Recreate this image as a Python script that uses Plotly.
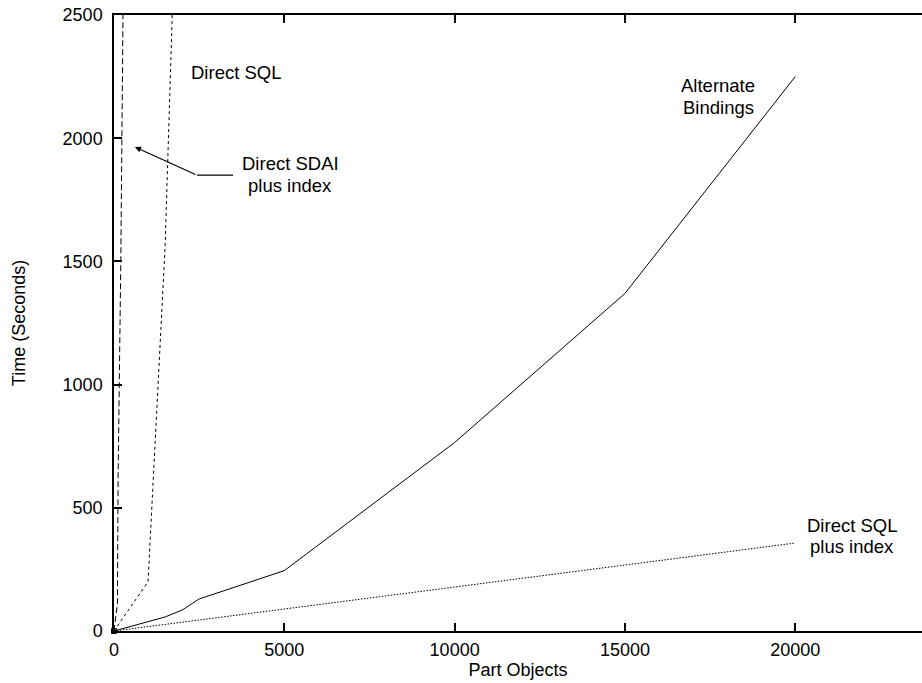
import plotly.graph_objects as go

# ---- data ----
alt_x = [0, 1500, 2000, 2500, 5000, 10000, 15000, 20000]
alt_y = [0, 57, 85, 130, 245, 765, 1370, 2250]

sqlidx_x = [0, 1500, 2000, 2500, 5000, 10000, 15000, 20000]
sqlidx_y = [0, 27, 36, 45, 89, 178, 268, 357]

sql_x = [0, 1000, 1500, 2000]
sql_y = [0, 200, 1560, 3800]

sdai_x = [0, 100, 120, 200, 270]
sdai_y = [0, 110, 620, 1500, 2600]

x_ticks = [0, 5000, 10000, 15000, 20000]
y_ticks = [0, 500, 1000, 1500, 2000, 2500]

FONT = "Liberation Sans, Arial, Helvetica, sans-serif"

fig = go.Figure()
fig.add_trace(go.Scatter(x=alt_x, y=alt_y, mode="lines",
                         line=dict(color="black", width=1), name="Alternate Bindings"))
fig.add_trace(go.Scatter(x=sqlidx_x, y=sqlidx_y, mode="lines",
                         line=dict(color="black", width=1, dash="1.5px,1.5px"),
                         name="Direct SQL plus index"))
fig.add_trace(go.Scatter(x=sql_x, y=sql_y, mode="lines",
                         line=dict(color="black", width=1, dash="3px,3px"), name="Direct SQL"))
fig.add_trace(go.Scatter(x=sdai_x, y=sdai_y, mode="lines",
                         line=dict(color="black", width=1, dash="6px,3px"),
                         name="Direct SDAI plus index"))
# small open square at the origin point of the SDAI series
fig.add_trace(go.Scatter(x=[sdai_x[0]], y=[sdai_y[0]], mode="markers",
                         marker=dict(symbol="square-open", size=5, color="black",
                                     line=dict(width=1, color="black")),
                         cliponaxis=False, showlegend=False, hoverinfo="skip"))

annots = [
    dict(x=3582, y=2268, text="Direct SQL"),
    dict(x=5167, y=1899, text="Direct SDAI"),
    dict(x=5167, y=1810, text="plus index"),
    dict(x=17734, y=2212, text="Alternate"),
    dict(x=17734, y=2126, text="Bindings"),
    dict(x=21668, y=430, text="Direct SQL"),
    dict(x=21668, y=341, text="plus index"),
]
for a in annots:
    fig.add_annotation(**a, xanchor="center", yanchor="middle", showarrow=False,
                       font=dict(family=FONT, size=18.5, color="black"))

# arrow for Direct SDAI plus index
fig.add_shape(type="line", x0=3494, y0=1850, x1=2437, y1=1850,
              line=dict(color="black", width=1.2))
fig.add_annotation(x=617, y=1964, ax=2437, ay=1850, xref="x", yref="y",
                   axref="x", ayref="y", text="", showarrow=True,
                   arrowhead=2, arrowsize=1, arrowwidth=1.2, arrowcolor="black")

fig.update_layout(
    width=922, height=683,
    margin=dict(l=114, r=0, t=15, b=52),
    paper_bgcolor="white", plot_bgcolor="white",
    showlegend=False,
    font=dict(family=FONT, size=18, color="black"),
)
fig.update_xaxes(
    range=[0, 23720], tickvals=x_ticks, ticktext=[str(v) for v in x_ticks],
    ticks="inside", ticklen=8, tickwidth=1.5, tickcolor="black",
    showline=True, linecolor="black", linewidth=1.5, mirror="ticks",
    showgrid=False, zeroline=False, ticklabelstandoff=2,
    title=dict(text="Part Objects", standoff=0, font=dict(size=18)),
    automargin=False,
)
fig.update_yaxes(
    range=[0, 2500], tickvals=y_ticks, ticktext=[str(v) for v in y_ticks],
    ticks="inside", ticklen=8, tickwidth=1.5, tickcolor="black",
    showline=True, linecolor="black", linewidth=1.5, mirror=False,
    showgrid=False, zeroline=False, ticklabelstandoff=6,
    title=dict(text="Time (Seconds)", standoff=32, font=dict(size=18)),
    automargin=False,
)

fig.write_html("out.html")
